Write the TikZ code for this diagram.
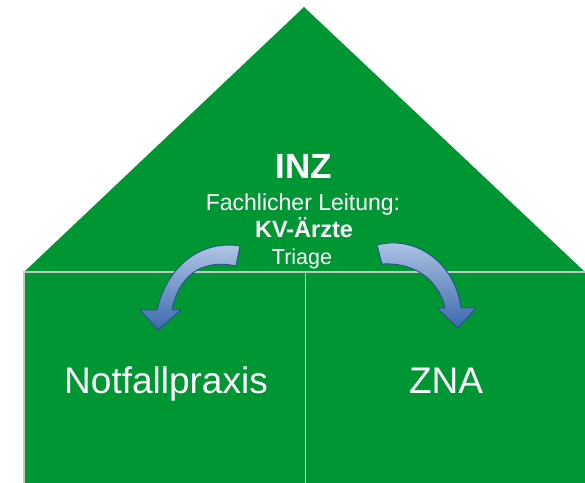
\documentclass[tikz,border=0pt]{standalone}
\usepackage{fontspec}
\setmainfont{Liberation Sans}
\definecolor{housegreen}{RGB}{0,150,52}
\definecolor{wallgrey}{RGB}{190,198,192}
\definecolor{arrowlight}{RGB}{184,202,233}
\definecolor{arrowdark}{RGB}{58,106,172}
\definecolor{arrowedge}{RGB}{40,80,140}
\tikzset{
  roof/.style={fill=housegreen, draw=none},
  room/.style={fill=housegreen, draw=wallgrey, line width=1.6pt},
  label/.style={text=white, inner sep=0pt, anchor=base},
  bentarrow/.style={top color=arrowlight, bottom color=arrowdark, draw=arrowedge, line width=0.9pt, line join=round},
}
\newcommand{\fs}[1]{\fontsize{#1}{#1}\selectfont}
\begin{document}
\begin{tikzpicture}[x=1pt,y=-1pt]
  \useasboundingbox (0,0) rectangle (585,482);
  % roof
  \path[roof] (24,272) -- (304,7) -- (585,272) -- cycle;
  % two rooms
  \path[room] (24,272) rectangle (305.5,490);
  \path[room] (305.5,272) rectangle (592,490);
  % texts
  \node[label, font=\fs{35}\bfseries] (inz) at (304,178) {INZ};
  \node[label, font=\fs{23}] (lead) at (303,210) {Fachlicher Leitung:};
  \node[label, font=\fs{23.5}\bfseries] (kv) at (304,237) {KV-Ärzte};
  \node[label, font=\fs{21.5}] (tri) at (302,264) {Triage};
  \node[label, font=\fs{37}] (nfp) at (166,393) {Notfallpraxis};
  \node[label, font=\fs{37}] (zna) at (446,393) {ZNA};
  % curved arrows from the triage to both rooms
  \path[bentarrow] (240,246) .. controls (205,240) and (168,262) .. (157,310)
    -- (140,310) -- (158,330) -- (181,310) -- (172,310)
    .. controls (178,278) and (200,258) .. (236,266) -- cycle;
  \path[bentarrow] (377,245) .. controls (415,235) and (455,262) .. (461,308)
    -- (476,308) -- (458,328) -- (437,308) -- (445,308)
    .. controls (440,285) and (420,262) .. (382,264) -- cycle;
\end{tikzpicture}
\end{document}
